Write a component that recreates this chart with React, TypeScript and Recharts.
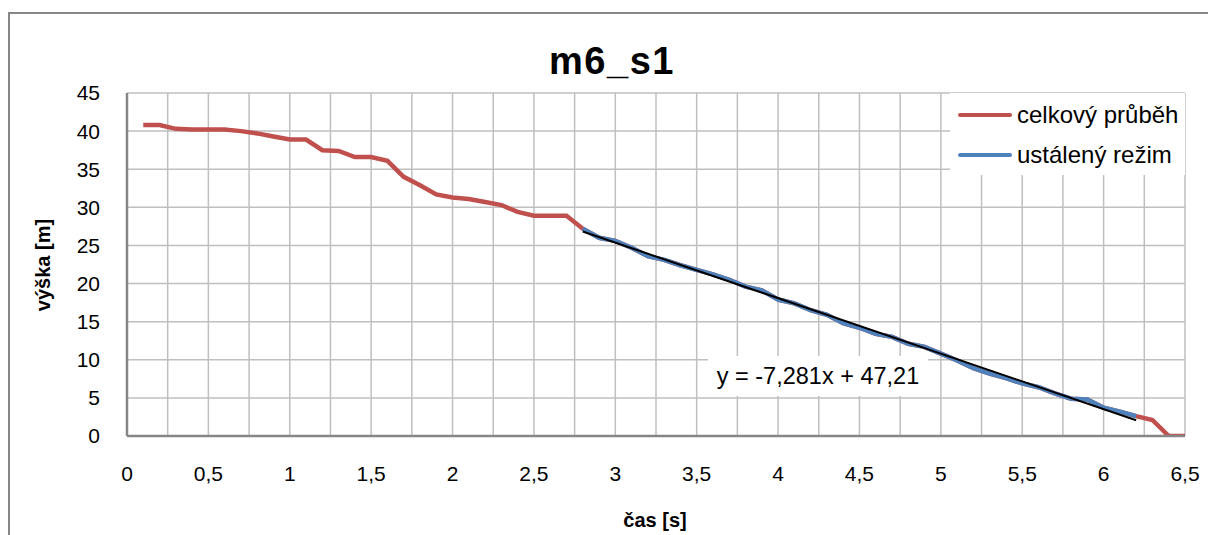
import React from "react";
import { LineChart, Line, XAxis, YAxis, CartesianGrid } from "recharts";

// ---- data ----
const totalTimes = [
  0.1, 0.2, 0.3, 0.4, 0.5, 0.6, 0.7, 0.8, 0.9, 1.0,
  1.1, 1.2, 1.3, 1.4, 1.5, 1.6, 1.7, 1.8, 1.9, 2.0,
  2.1, 2.2, 2.3, 2.4, 2.5, 2.6, 2.7, 2.8, 2.9, 3.0,
  3.1, 3.2, 3.3, 3.4, 3.5, 3.6, 3.7, 3.8, 3.9, 4.0,
  4.1, 4.2, 4.3, 4.4, 4.5, 4.6, 4.7, 4.8, 4.9, 5.0,
  5.1, 5.2, 5.3, 5.4, 5.5, 5.6, 5.7, 5.8, 5.9, 6.0,
  6.1, 6.2, 6.3, 6.4, 6.5,
];
const totalHeights = [
  40.8, 40.8, 40.3, 40.2, 40.2, 40.2, 40.0, 39.7, 39.3, 38.9,
  38.9, 37.5, 37.4, 36.6, 36.6, 36.1, 34.0, 32.9, 31.7, 31.3,
  31.1, 30.7, 30.3, 29.4, 28.9, 28.9, 28.9, 27.2, 26.0, 25.6,
  24.7, 23.6, 23.1, 22.4, 21.8, 21.2, 20.5, 19.6, 19.1, 17.9,
  17.4, 16.5, 15.9, 14.8, 14.2, 13.4, 13.0, 12.1, 11.7, 10.8,
  9.9, 8.9, 8.2, 7.6, 6.9, 6.4, 5.6, 4.9, 4.8, 3.7,
  3.2, 2.6, 2.1, 0.0, 0.0,
];
const steadyTimes = [
  2.8, 2.9, 3.0, 3.1, 3.2, 3.3, 3.4, 3.5, 3.6, 3.7,
  3.8, 3.9, 4.0, 4.1, 4.2, 4.3, 4.4, 4.5, 4.6, 4.7,
  4.8, 4.9, 5.0, 5.1, 5.2, 5.3, 5.4, 5.5, 5.6, 5.7,
  5.8, 5.9, 6.0, 6.1, 6.2,
];
const steadyHeights = [
  27.2, 26.0, 25.6, 24.7, 23.6, 23.1, 22.4, 21.8, 21.2, 20.5,
  19.6, 19.1, 17.9, 17.4, 16.5, 15.9, 14.8, 14.2, 13.4, 13.0,
  12.1, 11.7, 10.8, 9.9, 8.9, 8.2, 7.6, 6.9, 6.4, 5.6,
  4.9, 4.8, 3.7, 3.2, 2.6,
];
const trendSlope = -7.281;
const trendIntercept = 47.21;
const trendRange = [2.8, 6.2];

const xTicks = [0, 0.5, 1, 1.5, 2, 2.5, 3, 3.5, 4, 4.5, 5, 5.5, 6, 6.5];
const xGridTicks = [
  0, 0.25, 0.5, 0.75, 1, 1.25, 1.5, 1.75, 2, 2.25, 2.5, 2.75, 3, 3.25,
  3.5, 3.75, 4, 4.25, 4.5, 4.75, 5, 5.25, 5.5, 5.75, 6, 6.25, 6.5,
];
const yTicks = [0, 5, 10, 15, 20, 25, 30, 35, 40, 45];

const titleText = "m6_s1";
const xTitle = "čas [s]";
const yTitle = "výška [m]";
const seriesNames = ["celkový průběh", "ustálený režim"];
const equationText = "y = -7,281x + 47,21";

// ---- derived tables ----
const totalData = totalTimes.map((t, i) => ({ x: t, y: totalHeights[i] }));
const steadyData = steadyTimes.map((t, i) => ({ x: t, y: steadyHeights[i] }));
const trendData = trendRange.map((t) => ({ x: t, y: trendSlope * t + trendIntercept }));

const RED = "#c0504d";
const BLUE = "#4f81bd";
const FONT = "'Liberation Sans', Arial, sans-serif";
const fmt = (v: number) => String(v).replace(".", ",");

export default function App() {
  return (
    <div style={{ position: "absolute", left: 0, top: 0, width: 1208, height: 535, background: "#fff", fontFamily: FONT }}>
      <div style={{ position: "absolute", left: 8, top: 12, width: 1240, height: 600, border: "2px solid #868686", boxSizing: "border-box" }} />
      <LineChart
        width={1208}
        height={535}
        margin={{ top: 93, right: 23, bottom: 39, left: 27 }}
        style={{ position: "absolute", left: 0, top: 0 }}
      >
        <XAxis
          xAxisId="grid"
          type="number"
          dataKey="x"
          domain={[0, 6.5]}
          ticks={xGridTicks}
          hide
          allowDataOverflow
        />
        <CartesianGrid xAxisId="grid" stroke="#bfbfbf" strokeWidth={1.5} />
        <XAxis
          type="number"
          dataKey="x"
          domain={[0, 6.5]}
          ticks={xTicks}
          tickFormatter={fmt}
          height={60}
          tickLine={false}
          tickSize={0}
          tickMargin={30}
          axisLine={{ stroke: "#868686", strokeWidth: 2.5 }}
          tick={{ fill: "#000", fontSize: 21, fontFamily: FONT }}
          allowDataOverflow
        />
        <YAxis
          type="number"
          domain={[0, 45]}
          ticks={yTicks}
          width={100}
          tickLine={false}
          tickSize={0}
          tickMargin={27}
          axisLine={{ stroke: "#868686", strokeWidth: 2.5 }}
          tick={{ fill: "#000", fontSize: 21, fontFamily: FONT }}
          allowDataOverflow
        />
        <Line data={totalData} dataKey="y" stroke={RED} strokeWidth={4.5} dot={false} isAnimationActive={false} />
        <Line data={steadyData} dataKey="y" stroke={BLUE} strokeWidth={4.5} dot={false} isAnimationActive={false} />
        <Line data={trendData} dataKey="y" stroke="#000" strokeWidth={2} dot={false} isAnimationActive={false} />
      </LineChart>

      {/* Title */}
      <div style={{ position: "absolute", left: 412, width: 400, top: 38, textAlign: "center", fontSize: 38, fontWeight: "bold", lineHeight: "46px", letterSpacing: 1.5 }}>
        {titleText}
      </div>

      {/* Y title */}
      <div
        style={{
          position: "absolute", left: 43, top: 265, width: 200, marginLeft: -100, marginTop: -12,
          textAlign: "center", fontSize: 20, fontWeight: "bold", lineHeight: "24px",
          transform: "rotate(-90deg)",
        }}
      >
        {yTitle}
      </div>

      {/* X title */}
      <div style={{ position: "absolute", left: 555, width: 200, top: 507, textAlign: "center", fontSize: 20, fontWeight: "bold", lineHeight: "26px" }}>
        {xTitle}
      </div>

      {/* Legend */}
      <div style={{ position: "absolute", left: 950, top: 93, width: 235, height: 82, background: "#fff" }}>
        {seriesNames.map((name, i) => (
          <div key={name} style={{ position: "absolute", left: 8, top: i === 0 ? 7 : 47, height: 30, display: "flex", alignItems: "center" }}>
            <div style={{ width: 54, height: 4.5, borderRadius: 2, background: i === 0 ? RED : BLUE, marginRight: 5 }} />
            <span style={{ fontSize: 24, whiteSpace: "nowrap" }}>{name}</span>
          </div>
        ))}
      </div>

      {/* Trendline equation */}
      <div style={{ position: "absolute", left: 708, top: 356, width: 220, height: 40, background: "#fff", textAlign: "center", fontSize: 23.5, lineHeight: "40px", whiteSpace: "nowrap" }}>
        {equationText}
      </div>
    </div>
  );
}
